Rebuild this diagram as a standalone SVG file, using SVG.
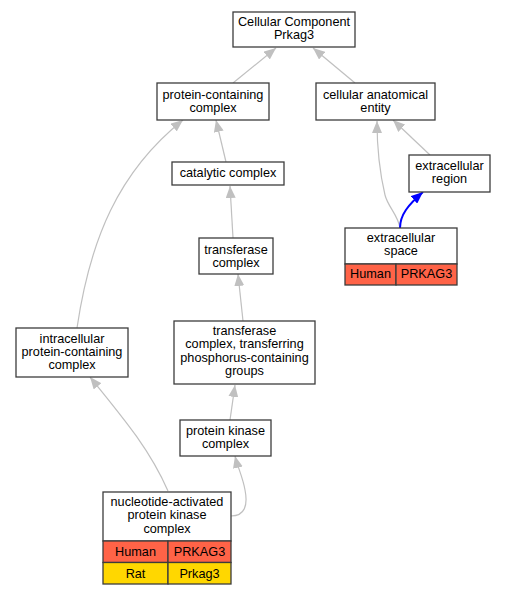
<svg xmlns="http://www.w3.org/2000/svg" width="505" height="595" viewBox="0 0 505 595">
<style>
.n rect{fill:#fff;stroke:#3c3c3c;stroke-width:1.3}
.n rect.h{fill:#ff6347}
.n rect.r{fill:#ffd700}
text{font-family:"Liberation Sans",Arial,sans-serif;font-size:12.7px;fill:#000;text-anchor:middle}
.e{fill:none;stroke:#c0c0c0;stroke-width:1.2}
.b{fill:none;stroke:#0000ff;stroke-width:2}
</style>
<defs>
<marker id="ag" markerUnits="userSpaceOnUse" markerWidth="12" markerHeight="10" viewBox="0 0 12 10" refX="12" refY="5" orient="auto"><path d="M0,0 L12,5 L0,10 z" fill="#c0c0c0"/></marker>
<marker id="ab" markerUnits="userSpaceOnUse" markerWidth="12" markerHeight="10" viewBox="0 0 12 10" refX="12" refY="5" orient="auto"><path d="M0,0 L12,5 L0,10 z" fill="#0000ff"/></marker>
</defs>
<rect width="505" height="595" fill="#fff"/>
<g id="edges">
<path class="e" d="M233,83 L276,48" marker-end="url(#ag)"/>
<path class="e" d="M355,83 L313,48" marker-end="url(#ag)"/>
<path class="e" d="M226,162 L216,120" marker-end="url(#ag)"/>
<path class="e" d="M233,238 L230,186" marker-end="url(#ag)"/>
<path class="e" d="M430,155 L393,120" marker-end="url(#ag)"/>
<path class="e" d="M400,228 C398,215 388,207 385,195 C381,178 377,150 377,121" marker-end="url(#ag)"/>
<path class="b" d="M400,228 C400,215 408,205 423,192" marker-end="url(#ab)"/>
<path class="e" d="M77,328 C90,240 118,172 183,120" marker-end="url(#ag)"/>
<path class="e" d="M243,321 L238,274" marker-end="url(#ag)"/>
<path class="e" d="M230,420 L235,385" marker-end="url(#ag)"/>
<path class="e" d="M168,491 C150,450 125,420 90,377" marker-end="url(#ag)"/>
<path class="e" d="M231,516 C245,516 248,505 245,490 C243,478 238,468 235,456" marker-end="url(#ag)"/>
</g>
<g id="n1" class="n"><rect x="233" y="12" width="122" height="35"/><text x="294" y="26">Cellular Component</text><text x="294" y="39">Prkag3</text></g>
<g id="n2" class="n"><rect x="157" y="83" width="112" height="37"/><text x="213" y="99">protein-containing</text><text x="213" y="112">complex</text></g>
<g id="n3" class="n"><rect x="316" y="83" width="119" height="37"/><text x="375.5" y="99">cellular anatomical</text><text x="375.5" y="112">entity</text></g>
<g id="n4" class="n"><rect x="172" y="162" width="112" height="23"/><text x="228" y="177">catalytic complex</text></g>
<g id="n5" class="n"><rect x="409" y="155" width="81" height="37"/><text x="449.5" y="170">extracellular</text><text x="449.5" y="183">region</text></g>
<g id="n6" class="n"><rect x="199" y="238" width="74" height="36"/><text x="236" y="253.5">transferase</text><text x="236" y="266.5">complex</text></g>
<g id="n7" class="n"><rect x="345" y="228" width="112" height="36"/><text x="401" y="242">extracellular</text><text x="401" y="255">space</text><rect class="h" x="345" y="264" width="51" height="21"/><rect class="h" x="396" y="264" width="61" height="21"/><text x="370.5" y="278">Human</text><text x="426.5" y="278">PRKAG3</text></g>
<g id="n8" class="n"><rect x="16" y="328" width="112" height="49"/><text x="72" y="342.5">intracellular</text><text x="72" y="355.5">protein-containing</text><text x="72" y="368.5">complex</text></g>
<g id="n9" class="n"><rect x="174" y="321" width="141" height="63"/><text x="244.5" y="335">transferase</text><text x="244.5" y="348">complex, transferring</text><text x="244.5" y="361.5">phosphorus-containing</text><text x="244.5" y="375">groups</text></g>
<g id="n10" class="n"><rect x="180" y="420" width="91" height="36"/><text x="225.5" y="434.5">protein kinase</text><text x="225.5" y="447.5">complex</text></g>
<g id="n11" class="n"><rect x="103" y="492" width="128" height="49"/><text x="167" y="506">nucleotide-activated</text><text x="167" y="519">protein kinase</text><text x="167" y="532.5">complex</text><rect class="h" x="103" y="541" width="65" height="21.5"/><rect class="h" x="168" y="541" width="63" height="21.5"/><text x="135.5" y="556">Human</text><text x="199.5" y="556">PRKAG3</text><rect class="r" x="103" y="562.5" width="65" height="21.5"/><rect class="r" x="168" y="562.5" width="63" height="21.5"/><text x="135.5" y="577.5">Rat</text><text x="199.5" y="577.5">Prkag3</text></g>
</svg>
